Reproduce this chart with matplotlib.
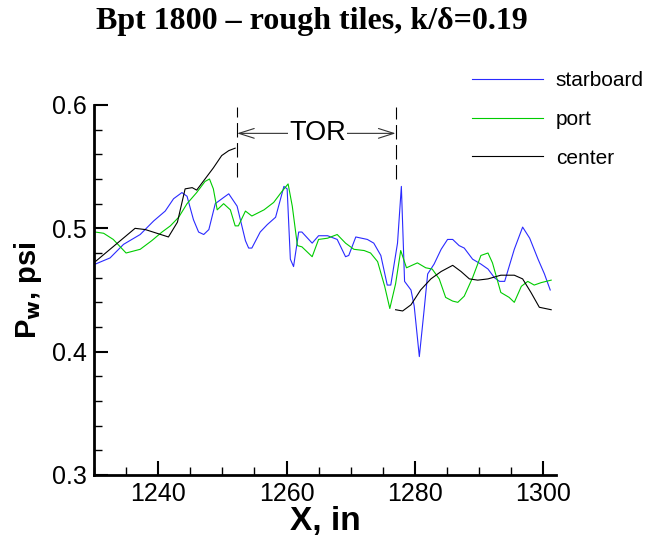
import numpy as np
import matplotlib
matplotlib.use('Agg')
import matplotlib.pyplot as plt
from matplotlib.ticker import MultipleLocator

## Data

x_starboard = [1230.2, 1232.5, 1234.6, 1237.2, 1239.3, 1241.1, 1242.4, 1243.7, 1244.5, 1245.5,
               1246.3, 1247.1, 1247.9, 1248.9, 1250.2, 1251.0, 1252.3, 1253.6, 1254.1, 1254.6,
               1255.9, 1257.0, 1258.3, 1259.6, 1260.1, 1260.6, 1261.1, 1261.9, 1262.4, 1264.0,
               1265.0, 1266.4, 1267.9, 1269.2, 1269.7, 1270.8, 1272.6, 1273.6, 1274.7, 1275.7,
               1276.25, 1277.3, 1277.9, 1278.4, 1279.4, 1279.9, 1280.7, 1281.45, 1282.0, 1283.0,
               1284.1, 1285.1, 1285.9, 1286.9, 1287.7, 1289.0, 1290.3, 1291.4, 1292.4, 1293.2,
               1294.0, 1295.5, 1296.8, 1297.9, 1299.2, 1300.2, 1301.1]
p_starboard = [0.471, 0.476, 0.487, 0.495, 0.506, 0.514, 0.524, 0.529, 0.526, 0.507,
               0.497, 0.495, 0.499, 0.520, 0.525, 0.528, 0.518, 0.490, 0.484, 0.484,
               0.497, 0.503, 0.509, 0.534, 0.532, 0.475, 0.469, 0.497, 0.497, 0.488,
               0.494, 0.494, 0.491, 0.477, 0.478, 0.493, 0.491, 0.488, 0.478, 0.454,
               0.454, 0.488, 0.534, 0.457, 0.450, 0.437, 0.396, 0.434, 0.463, 0.471,
               0.483, 0.491, 0.491, 0.486, 0.484, 0.475, 0.471, 0.467, 0.460, 0.457,
               0.457, 0.483, 0.501, 0.492, 0.475, 0.463, 0.450]

x_port = [1230.2, 1231.5, 1233.0, 1235.0, 1237.2, 1239.0, 1240.6, 1241.9, 1243.2, 1244.5,
          1246.0, 1247.3, 1248.0, 1248.6, 1249.2, 1250.2, 1251.25, 1252.0, 1252.5, 1253.6,
          1254.6, 1256.5, 1258.0, 1259.3, 1260.25, 1260.9, 1261.7, 1262.4, 1264.0, 1265.0,
          1266.4, 1267.9, 1269.2, 1270.5, 1272.1, 1273.1, 1274.2, 1275.3, 1276.1, 1277.0,
          1277.8, 1278.7, 1280.4, 1281.7, 1282.7, 1283.8, 1284.8, 1285.9, 1286.7, 1287.7,
          1289.0, 1290.3, 1291.4, 1292.1, 1293.4, 1294.7, 1295.5, 1296.6, 1297.6, 1298.6,
          1299.7, 1301.25]
p_port = [0.497, 0.496, 0.491, 0.480, 0.483, 0.490, 0.497, 0.502, 0.509, 0.520,
          0.529, 0.538, 0.540, 0.532, 0.515, 0.520, 0.515, 0.502, 0.502, 0.514,
          0.510, 0.515, 0.521, 0.530, 0.536, 0.518, 0.486, 0.485, 0.477, 0.491,
          0.492, 0.495, 0.488, 0.483, 0.482, 0.480, 0.473, 0.453, 0.435, 0.455,
          0.482, 0.468, 0.472, 0.468, 0.467, 0.459, 0.444, 0.441, 0.440, 0.445,
          0.460, 0.478, 0.480, 0.472, 0.448, 0.444, 0.440, 0.453, 0.457, 0.454,
          0.456, 0.458]

# center has a gap over the TOR region
x_center = [1230.2, 1236.4, 1238.0, 1241.6, 1243.0, 1244.2, 1245.3, 1246.0, 1247.3, 1248.6,
            1249.9, 1251.0, 1252.0, np.nan, 1277.0, 1278.1, 1279.4, 1280.9, 1282.5, 1284.1,
            1285.9, 1287.2, 1288.5, 1289.8, 1291.4, 1293.4, 1295.5, 1296.8, 1298.1, 1299.4,
            1301.25]
p_center = [0.473, 0.500, 0.499, 0.493, 0.505, 0.532, 0.533, 0.531, 0.540, 0.549,
            0.559, 0.563, 0.565, np.nan, 0.434, 0.433, 0.438, 0.450, 0.459, 0.465,
            0.470, 0.465, 0.459, 0.458, 0.459, 0.462, 0.462, 0.459, 0.448, 0.436,
            0.434]

tor_start = 1252.3
tor_end = 1277.0

## Plot

fig = plt.figure(figsize=(6.65, 5.42), dpi=100)
ax = fig.add_axes([94/665, 1-475/542, 462/665, 370/542])

ax.plot(x_starboard, p_starboard, color='#2a2aff', lw=0.8, label='starboard')
ax.plot(x_port, p_port, color='#00cc00', lw=0.8, label='port')
ax.plot(x_center, p_center, color='black', lw=0.8, label='center')

# TOR markers
for xt, y0 in [(tor_start, 0.542), (tor_end, 0.540)]:
    ax.plot([xt, xt], [y0, 0.598], color='black', lw=0.8, ls=(0, (13, 5)))
ax.annotate('', xy=(tor_start, 0.577), xytext=(tor_end, 0.577),
            arrowprops=dict(arrowstyle='<->,head_length=1.1,head_width=0.35',
                            color='#333333', lw=0.8, shrinkA=0, shrinkB=0,
                            mutation_scale=10))
ax.text((tor_start + tor_end) / 2 + 0.2, 0.577, 'TOR', ha='center', va='center',
        fontsize=19.5, family='Liberation Sans',
        bbox=dict(facecolor='white', edgecolor='none', pad=0.5))

ax.set_xlim(1230, 1302)
ax.set_ylim(0.3, 0.6)
ax.xaxis.set_major_locator(MultipleLocator(20))
ax.xaxis.set_minor_locator(MultipleLocator(5))
ax.yaxis.set_major_locator(MultipleLocator(0.1))
ax.yaxis.set_minor_locator(MultipleLocator(0.02))
ax.set_yticks([0.3, 0.4, 0.5, 0.6])
ax.set_yticklabels(['0.3', '0.4', '0.5', '0.6'])

for s in ['top', 'right']:
    ax.spines[s].set_visible(False)
for s in ['left', 'bottom']:
    ax.spines[s].set_linewidth(2)
ax.tick_params(which='major', direction='in', length=10, width=1.5,
               labelsize=18, pad=5)
ax.tick_params(which='minor', direction='in', length=6, width=1)
for lab in ax.get_xticklabels() + ax.get_yticklabels():
    lab.set_family('Liberation Sans')

ax.set_xlabel('X, in', fontsize=24, fontweight='bold', family='Liberation Sans', labelpad=0)
ax.set_ylabel(r'P$_\mathbf{w}$, psi', fontsize=21, fontweight='bold',
              family='Liberation Sans', labelpad=6)

fig.text(312/665, 1-22/542, u'Bpt 1800 \u2013 rough tiles, k/\u03b4=0.19',
         ha='center', va='center', fontsize=23, fontweight='bold',
         family='Liberation Serif')

ax.legend(loc='upper left', bbox_to_anchor=(464/665, 1-63/542),
          bbox_transform=fig.transFigure, frameon=False,
          prop={'family': 'Liberation Sans', 'size': 15},
          handlelength=3.4, handletextpad=0.6, labelspacing=0.94, borderaxespad=0)

fig.savefig('out.png', dpi=100)
